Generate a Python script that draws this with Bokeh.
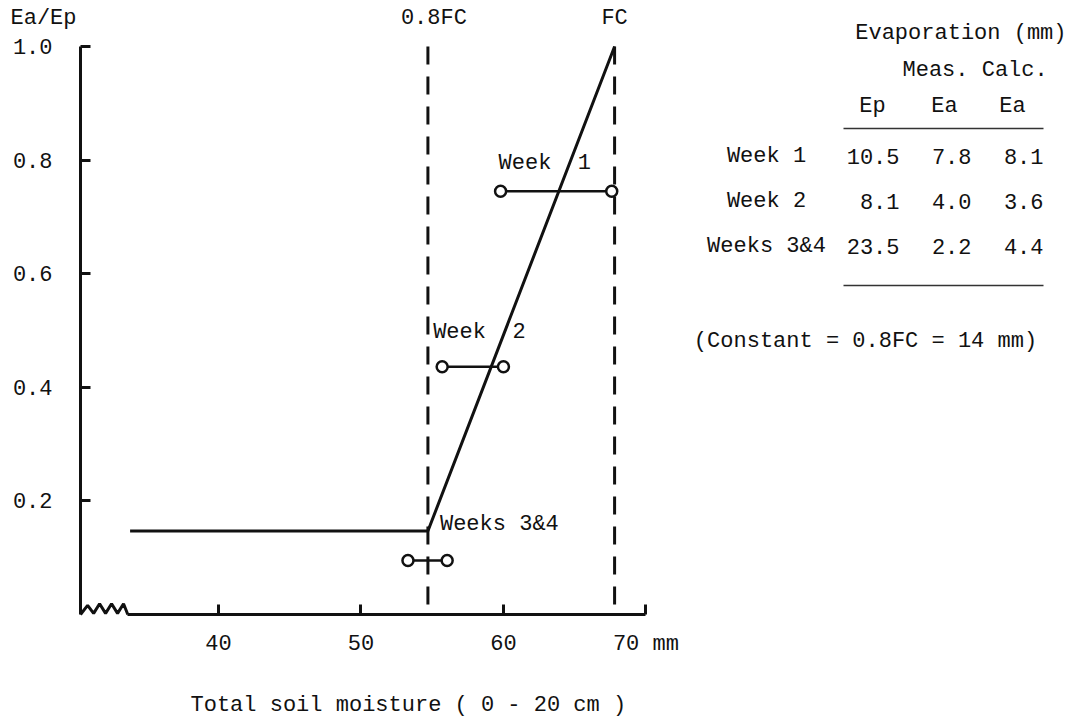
import numpy as np
from bokeh.plotting import figure
from bokeh.models import Range1d, FixedTicker, Label, ColumnDataSource
from bokeh.embed import file_html
from bokeh.resources import INLINE
from bokeh.core.properties import value

# ---------------- data ----------------
x_ticks = [40, 50, 60, 70]
x_tick_labels = ["40", "50", "60", "70 mm"]
y_ticks = [0.2, 0.4, 0.6, 0.8, 1.0]
y_tick_labels = ["0.2", "0.4", "0.6", "0.8", "1.0"]
x_axis_start = 30.32   # broken x axis starts here

fc = 67.8            # field capacity (mm)
fc08 = 54.7          # 0.8 FC (mm)

curve_x = [33.8, 54.7, 67.8]      # Ea/Ep relation
curve_y = [0.147, 0.147, 1.0]

weeks = ["Week 1", "Week 2", "Weeks 3&4"]
week_x0 = [59.8, 55.7, 53.3]
week_x1 = [67.6, 60.0, 56.05]
week_ratio = [0.745, 0.436, 0.095]

ep_meas = [10.5, 8.1, 23.5]
ea_meas = [7.8, 4.0, 2.2]
ea_calc = [8.1, 3.6, 4.4]

# ---------------- layout ----------------
W, H = 1082, 718
FL, FB = 80, 614          # position of the axes corner in canvas px
PXU, PYU = 14.25, 568.0   # px per data unit
FONT = "Liberation Mono"
FS = "22px"
INK = "#111111"

def X(px):
    return x_axis_start + (px - FL) / PXU

def Y(py):
    return (FB - py) / PYU

p = figure(width=W, height=H, output_backend="svg", toolbar_location=None,
           x_range=Range1d(X(0), X(W)), y_range=Range1d(Y(H), Y(0)),
           min_border=0, min_border_left=0, min_border_right=0,
           min_border_top=0, min_border_bottom=0)
p.outline_line_color = None
p.grid.visible = False
p.background_fill_color = "white"
p.border_fill_color = "white"

# axes (fixed inside the canvas)
for ax in (p.xaxis, p.yaxis):
    ax.axis_line_width = 3
    ax.axis_line_color = INK
    ax.major_tick_in = 10
    ax.major_tick_out = 0
    ax.major_tick_line_width = 3
    ax.major_tick_line_color = INK
    ax.minor_tick_line_color = None
    ax.major_label_text_font = FONT
    ax.major_label_text_font_size = FS
    ax.major_label_text_color = INK

# zig-zag axis break at the start of the x axis
n_teeth = 7
tooth = 0.42
zz_x = [x_axis_start] + [x_axis_start + 0.08 + tooth * (i + 1) for i in range(n_teeth)] \
       + [x_axis_start + 0.08 + tooth * n_teeth + 0.3]
zz_y = [0.0] + [0.019 if i % 2 == 0 else 0.002 for i in range(n_teeth)] + [0.0]
zz_y[1] = 0.016

p.xaxis.fixed_location = 0
p.xaxis.ticker = FixedTicker(ticks=x_ticks)
p.xaxis.major_label_overrides = {t: s for t, s in zip(x_ticks, x_tick_labels)}
p.xaxis.bounds = (zz_x[-1], max(x_ticks))
p.xaxis.major_label_standoff = 17

p.yaxis.fixed_location = x_axis_start
p.yaxis.ticker = FixedTicker(ticks=y_ticks)
p.yaxis.major_label_overrides = {t: s for t, s in zip(y_ticks, y_tick_labels)}
p.yaxis.bounds = (0, 1.0)
p.yaxis.major_label_standoff = 28

p.line(zz_x, zz_y, line_width=3, line_color=INK)

# FC lines
p.segment(x0=[fc08, fc], y0=[1.0, 1.0], x1=[fc08, fc], y1=[0, 0],
          line_width=3, line_color=INK, line_dash="18 12")

# relation curve
p.line(curve_x, curve_y, line_width=3, line_color=INK)

# weekly ranges
p.segment(x0=week_x0, y0=week_ratio, x1=week_x1, y1=week_ratio,
          line_width=2.5, line_color=INK)
p.scatter(x=week_x0 + week_x1, y=week_ratio + week_ratio, marker="circle",
          size=11, fill_color="white", line_color=INK, line_width=2.5)

# week labels (offsets in px relative to segment start)
lab_dx = [-2, -9, 32]
lab_dy = [-28, -34, -36]
chart_week_labels = [weeks[0].replace(" ", "\u00a0 "), weeks[1].replace(" ", "\u00a0 "), weeks[2]]
p.text(x=[x0 + dx / PXU for x0, dx in zip(week_x0, lab_dx)],
       y=[yy - dy / PYU for yy, dy in zip(week_ratio, lab_dy)],
       text=chart_week_labels, text_font=value(FONT), text_font_size=FS,
       text_color=INK, text_align="left", text_baseline="middle")

def lab(px, py, text, align="left"):
    p.add_layout(Label(x=X(px), y=Y(py), text=text, text_font=FONT,
                       text_font_size=FS, text_color=INK, text_align=align,
                       text_baseline="middle"))

lab(10, 18, "Ea/Ep")
p.add_layout(Label(x=fc08, y=Y(18), x_offset=6, text="0.8FC", text_font=FONT,
                   text_font_size=FS, text_color=INK, text_align="center",
                   text_baseline="middle"))
p.add_layout(Label(x=fc, y=Y(18), text="FC", text_font=FONT,
                   text_font_size=FS, text_color=INK, text_align="center",
                   text_baseline="middle"))
lab(190, 705, "Total soil moisture ( 0 - 20 cm )")

# ---------------- table ----------------
lab(1066, 33, "Evaporation (mm)", "right")
lab(902, 70, "Meas. Calc.")
lab(872, 106, "Ep", "center")
lab(944, 106, "Ea", "center")
lab(1012, 106, "Ea", "center")

p.segment(x0=[X(843)] * 2, y0=[Y(128), Y(285)], x1=[X(1043)] * 2, y1=[Y(128), Y(285)],
          line_width=1.5, line_color="#333333")

row_y = [Y(156 + 45 * i) for i in range(len(weeks))]
tsrc = ColumnDataSource(dict(
    y=row_y,
    name=weeks,
    ep=[f"{v:.1f}" for v in ep_meas],
    eam=[f"{v:.1f}" for v in ea_meas],
    eac=[f"{v:.1f}" for v in ea_calc],
))
for col, px, align in [("name", 766, "center"), ("ep", 899, "right"),
                       ("eam", 971, "right"), ("eac", 1043, "right")]:
    p.text(x=X(px), y="y", text=col, source=tsrc, text_font=value(FONT),
           text_font_size=FS, text_color=INK, text_align=align,
           text_baseline="middle")

lab(865, 341, "(Constant = 0.8FC = 14 mm)", "center")

open("out.html", "w").write(file_html(p, INLINE))
